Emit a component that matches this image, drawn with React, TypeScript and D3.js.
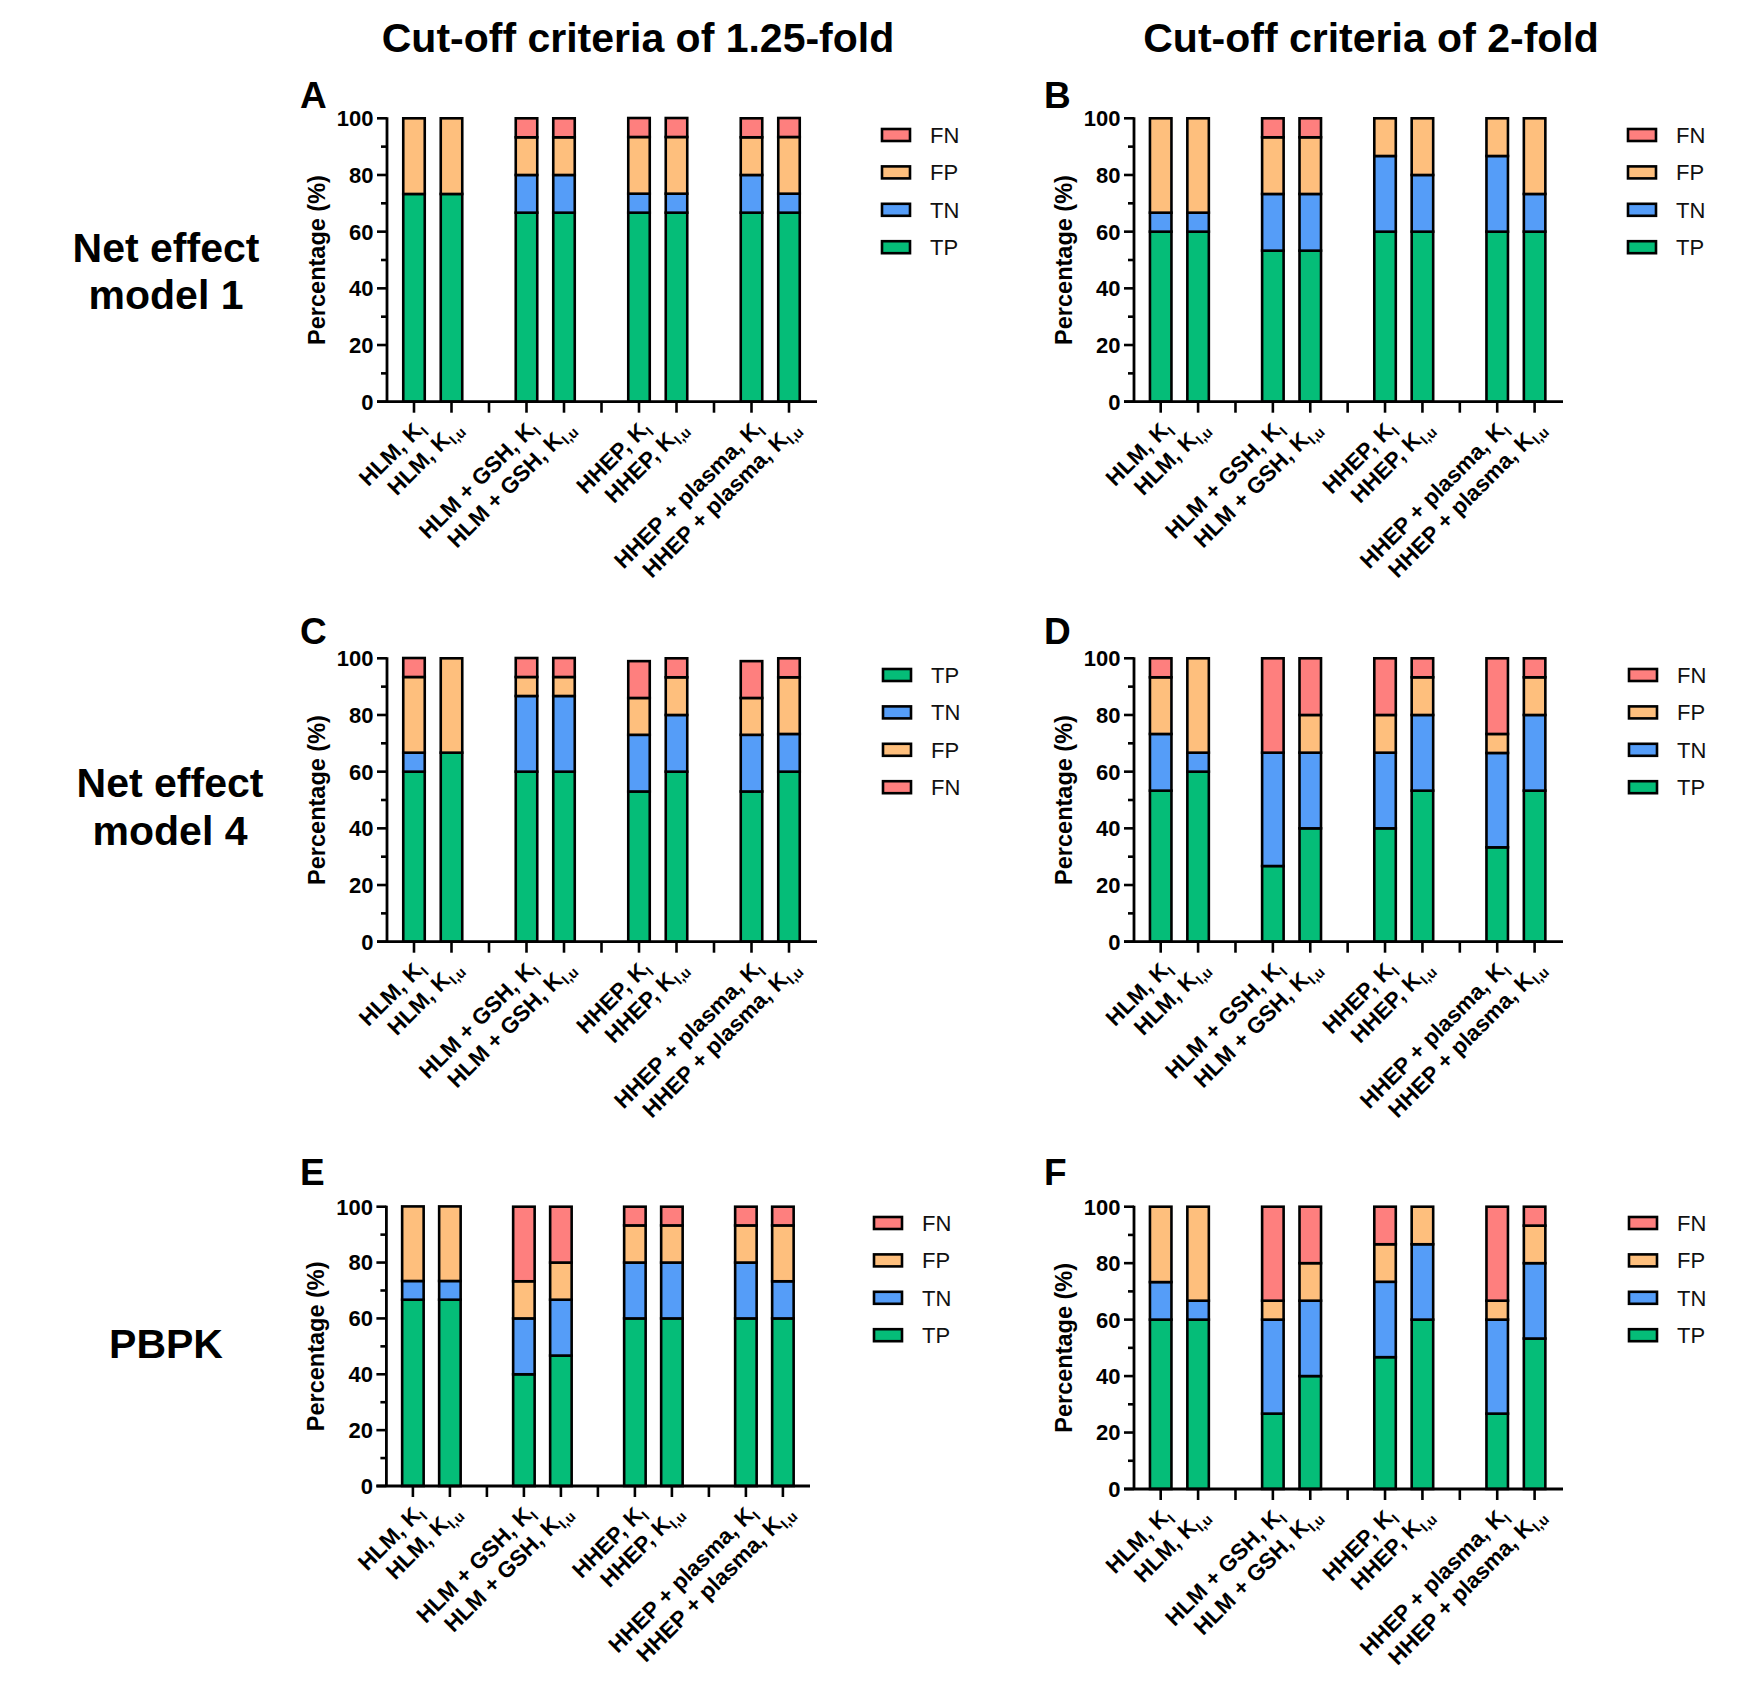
import React from "react";
import * as d3 from "d3";

const catBase = ["HLM, K", "HLM, K", "HLM + GSH, K", "HLM + GSH, K", "HHEP, K", "HHEP, K", "HHEP + plasma, K", "HHEP + plasma, K"];
const catSub = ["I", "I,u", "I", "I,u", "I", "I,u", "I", "I,u"];
// slots: 8 categories with 3 empty gap slots between pairs
const slots = ["c0", "c1", "g1", "c2", "c3", "g2", "c4", "c5", "g3", "c6", "c7"];
const catSlots = ["c0", "c1", "c2", "c3", "c4", "c5", "c6", "c7"];

const keys = ["TP", "TN", "FP", "FN"];
const colors: Record<string, string> = { TP: "#05BD78", TN: "#559DF8", FP: "#FEBF7D", FN: "#FE7F7E" };

const yTicks = [0, 20, 40, 60, 80, 100];
const yMinor = [10, 30, 50, 70, 90];

// Panel A – Net effect model 1, 1.25-fold
const A_TP = [73.3, 73.3, 66.7, 66.7, 66.7, 66.7, 66.7, 66.7];
const A_TN = [0, 0, 13.3, 13.3, 6.7, 6.7, 13.3, 6.7];
const A_FP = [26.7, 26.7, 13.3, 13.3, 20, 20, 13.3, 20];
const A_FN = [0, 0, 6.7, 6.7, 6.7, 6.7, 6.7, 6.7];
// Panel B – Net effect model 1, 2-fold
const B_TP = [60, 60, 53.3, 53.3, 60, 60, 60, 60];
const B_TN = [6.7, 6.7, 20, 20, 26.7, 20, 26.7, 13.3];
const B_FP = [33.3, 33.3, 20, 20, 13.3, 20, 13.3, 26.7];
const B_FN = [0, 0, 6.7, 6.7, 0, 0, 0, 0];
// Panel C – Net effect model 4, 1.25-fold
const C_TP = [60, 66.7, 60, 60, 53, 60, 53, 60];
const C_TN = [6.7, 0, 26.7, 26.7, 20, 20, 20, 13.3];
const C_FP = [26.7, 33.3, 6.7, 6.7, 13, 13.3, 13, 20];
const C_FN = [6.7, 0, 6.7, 6.7, 13, 6.7, 13, 6.7];
// Panel D – Net effect model 4, 2-fold
const D_TP = [53.3, 60, 26.7, 40, 40, 53.3, 33.3, 53.3];
const D_TN = [20, 6.7, 40, 26.7, 26.7, 26.7, 33.3, 26.7];
const D_FP = [20, 33.3, 0, 13.3, 13.3, 13.3, 6.7, 13.3];
const D_FN = [6.7, 0, 33.3, 20, 20, 6.7, 26.7, 6.7];
// Panel E – PBPK, 1.25-fold
const E_TP = [66.7, 66.7, 40, 46.7, 60, 60, 60, 60];
const E_TN = [6.7, 6.7, 20, 20, 20, 20, 20, 13.3];
const E_FP = [26.7, 26.7, 13.3, 13.3, 13.3, 13.3, 13.3, 20];
const E_FN = [0, 0, 26.7, 20, 6.7, 6.7, 6.7, 6.7];
// Panel F – PBPK, 2-fold
const F_TP = [60, 60, 26.7, 40, 46.7, 60, 26.7, 53.3];
const F_TN = [13.3, 6.7, 33.3, 26.7, 26.7, 26.7, 33.3, 26.7];
const F_FP = [26.7, 33.3, 6.7, 13.3, 13.3, 13.3, 6.7, 13.3];
const F_FN = [0, 0, 33.3, 20, 13.3, 0, 33.3, 6.7];

const legendDefault = ["FN", "FP", "TN", "TP"];
const legendC = ["TP", "TN", "FP", "FN"];

const colTitles = ["Cut-off criteria of 1.25-fold", "Cut-off criteria of 2-fold"];
const rowTitles = [["Net effect", "model 1"], ["Net effect", "model 4"], ["PBPK"]];

const FONT = "'Liberation Sans', Arial, Helvetica, sans-serif";

type PanelCfg = {
  letter: string;
  series: number[][];
  legend: string[];
  axisX: number;
  y0: number;
  y100: number;
  c0: number;
  c1: number;
  xEnd: number;
  legX: number;
  legY: number;
  letX: number;
  letY: number;
};

const panels: PanelCfg[] = [
  { letter: "A", series: [A_TP, A_TN, A_FP, A_FN], legend: legendDefault, axisX: 387, y0: 401.7, y100: 118.3, c0: 414, c1: 789, xEnd: 817, legX: 882, legY: 135, letX: 300, letY: 108 },
  { letter: "B", series: [B_TP, B_TN, B_FP, B_FN], legend: legendDefault, axisX: 1134, y0: 401.7, y100: 118.3, c0: 1160.7, c1: 1534.6, xEnd: 1563, legX: 1628, legY: 135, letX: 1044, letY: 108 },
  { letter: "C", series: [C_TP, C_TN, C_FP, C_FN], legend: legendC, axisX: 387, y0: 941.7, y100: 658.3, c0: 414, c1: 789, xEnd: 817, legX: 883, legY: 675, letX: 300, letY: 644 },
  { letter: "D", series: [D_TP, D_TN, D_FP, D_FN], legend: legendDefault, axisX: 1134, y0: 941.7, y100: 658.3, c0: 1160.7, c1: 1534.6, xEnd: 1563, legX: 1629, legY: 675, letX: 1044, letY: 644 },
  { letter: "E", series: [E_TP, E_TN, E_FP, E_FN], legend: legendDefault, axisX: 386.4, y0: 1486, y100: 1206.7, c0: 412.9, c1: 782.9, xEnd: 810, legX: 874, legY: 1223, letX: 300, letY: 1185 },
  { letter: "F", series: [F_TP, F_TN, F_FP, F_FN], legend: legendDefault, axisX: 1134, y0: 1489, y100: 1206.7, c0: 1160.7, c1: 1534.6, xEnd: 1563, legX: 1629, legY: 1223, letX: 1044, letY: 1185 },
];

function Panel({ p }: { p: PanelCfg }) {
  const x = d3.scalePoint<string>().domain(slots).range([p.c0, p.c1]);
  const y = d3.scaleLinear().domain([0, 100]).range([p.y0, p.y100]);
  const rows = catSlots.map((s, i) => {
    const r: any = { slot: s };
    keys.forEach((k, j) => (r[k] = p.series[j][i]));
    return r;
  });
  const stacked = d3.stack<any>().keys(keys)(rows);
  const bw = 21.5;
  const midY = (p.y0 + p.y100) / 2;
  return (
    <g>
      <text x={p.letX} y={p.letY} fontSize={37} fontWeight="bold" fontFamily={FONT}>{p.letter}</text>
      {/* bars */}
      {stacked.map((layer) => (
        <g key={layer.key}>
          {layer.map((d, i) => {
            const h = y(d[0]) - y(d[1]);
            if (h <= 0.01) return null;
            return (
              <rect key={i} x={(x(d.data.slot) as number) - bw / 2} y={y(d[1])} width={bw} height={h}
                fill={colors[layer.key]} stroke="#000" strokeWidth={2.6} />
            );
          })}
        </g>
      ))}
      {/* y axis */}
      <line x1={p.axisX} x2={p.axisX} y1={p.y0} y2={p.y100 - 1} stroke="#000" strokeWidth={2.8} />
      {yTicks.map((t) => (
        <g key={t}>
          <line x1={p.axisX - 10} x2={p.axisX} y1={y(t)} y2={y(t)} stroke="#000" strokeWidth={2.6} />
          <text x={p.axisX - 13.5} y={y(t)} dy="0.36em" textAnchor="end" fontSize={22} fontWeight="bold" fontFamily={FONT}>{t}</text>
        </g>
      ))}
      {yMinor.map((t) => (
        <line key={t} x1={p.axisX - 6} x2={p.axisX} y1={y(t)} y2={y(t)} stroke="#000" strokeWidth={2.6} />
      ))}
      <text transform={`translate(${p.axisX - 62},${midY}) rotate(-90)`} textAnchor="middle" fontSize={23.5} fontWeight="bold" fontFamily={FONT}>Percentage (%)</text>
      {/* x axis */}
      <line x1={p.axisX - 10} x2={p.xEnd} y1={p.y0} y2={p.y0} stroke="#000" strokeWidth={2.8} />
      {slots.map((s) => (
        <line key={s} x1={x(s)} x2={x(s)} y1={p.y0} y2={p.y0 + 11} stroke="#000" strokeWidth={2.6} />
      ))}
      {catSlots.map((s, i) => {
        const cx = x(s) as number;
        return (
          <text key={s} transform={`translate(${cx + 12},${p.y0 + 28}) rotate(-45)`} textAnchor="end" fontSize={22.5} fontWeight="bold" fontFamily={FONT}>
            {catBase[i]}
            <tspan fontSize={14.5} dy={5}>{catSub[i]}</tspan>
          </text>
        );
      })}
      {/* legend */}
      {p.legend.map((k, i) => {
        const cy = p.legY + i * 37.4;
        return (
          <g key={k}>
            <rect x={p.legX} y={cy - 6} width={28} height={12} fill={colors[k]} stroke="#000" strokeWidth={2.6} />
            <text x={p.legX + 48} y={cy} dy="0.36em" fontSize={22} fontFamily={FONT} fill="#111">{k}</text>
          </g>
        );
      })}
    </g>
  );
}

export default function App() {
  return (
    <div style={{ position: "absolute", left: 0, top: 0 }}>
      <svg width={1760} height={1690} viewBox="0 0 1760 1690" style={{ display: "block", background: "#fff" }}>
        <rect width={1760} height={1690} fill="#fff" />
        <text x={638} y={52} textAnchor="middle" fontSize={41} fontWeight="bold" fontFamily={FONT}>{colTitles[0]}</text>
        <text x={1371} y={52} textAnchor="middle" fontSize={41} fontWeight="bold" fontFamily={FONT}>{colTitles[1]}</text>
        <text x={166} textAnchor="middle" fontSize={41} fontWeight="bold" fontFamily={FONT}>
          <tspan x={166} y={262}>{rowTitles[0][0]}</tspan>
          <tspan x={166} y={309}>{rowTitles[0][1]}</tspan>
        </text>
        <text x={170} textAnchor="middle" fontSize={41} fontWeight="bold" fontFamily={FONT}>
          <tspan x={170} y={797}>{rowTitles[1][0]}</tspan>
          <tspan x={170} y={845}>{rowTitles[1][1]}</tspan>
        </text>
        <text x={166} y={1358} textAnchor="middle" fontSize={41} fontWeight="bold" fontFamily={FONT}>{rowTitles[2][0]}</text>
        {panels.map((p) => (
          <Panel key={p.letter} p={p} />
        ))}
      </svg>
    </div>
  );
}
